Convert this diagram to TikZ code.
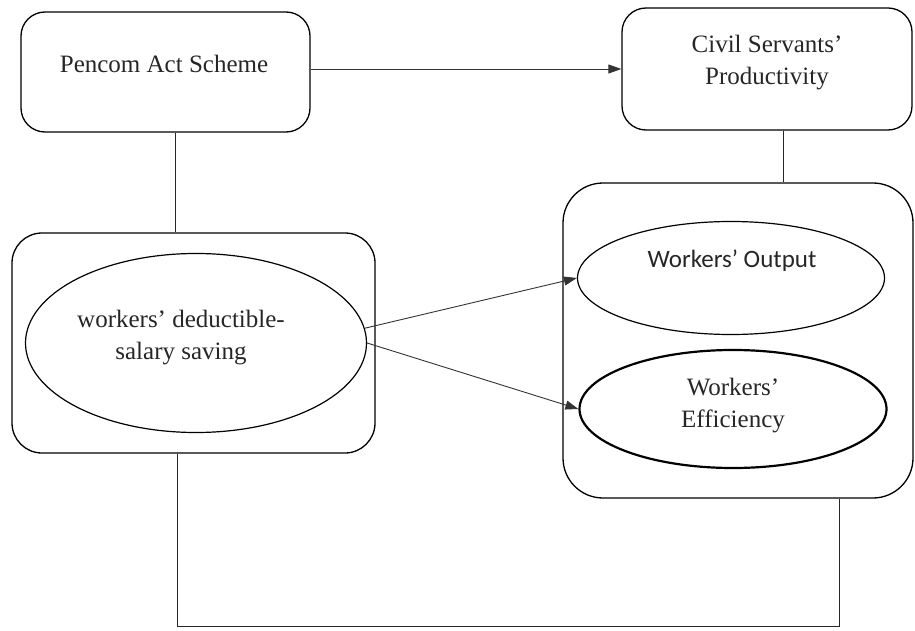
\documentclass[tikz,border=0pt]{standalone}
\usepackage{fontspec}
\setmainfont{Liberation Serif}
\newfontfamily\calib{Carlito}
\usetikzlibrary{shapes.geometric,arrows.meta}
\begin{document}
\begin{tikzpicture}[x=1pt,y=-1pt,
 box/.style={draw, rounded corners=24pt, line width=1.3pt, inner sep=0pt},
 ell/.style={draw, ellipse, line width=1.2pt, inner sep=0pt},
 txt/.style={align=center, font=\fontsize{25}{32}\selectfont, inner sep=0pt, text=black!85},
 link/.style={line width=0.8pt, draw=black!85},
 arr/.style={line width=0.9pt, draw=black!80, -{Triangle[length=13pt,width=9pt]}}]
\useasboundingbox (0,0) rectangle (915,631);
% top boxes
\node[box, minimum width=289pt, minimum height=120pt] (pencom) at (165.5,72) {};
\node[txt, anchor=base] (pencomT) at (164,73) {Pencom Act Scheme};
\node[box, minimum width=290pt, minimum height=122pt] (civil) at (767,69) {};
\node[txt] (civilT) at (767,63) {Civil Servants’\\Productivity};
% left group
\node[box, rounded corners=30pt, minimum width=363pt, minimum height=220pt] (leftbox) at (193.5,343) {};
\node[ell, minimum width=341pt, minimum height=179pt] (leftell) at (196,343) {};
\node[txt] (leftT) at (181,338) {workers’ deductible-\\salary saving};
% right group
\node[box, rounded corners=40pt, minimum width=350pt, minimum height=315pt] (rightbox) at (738,340.5) {};
\node[ell, minimum width=307pt, minimum height=113pt] (outell) at (731,278) {};
\node[txt, anchor=base, font=\calib\fontsize{25}{32}\selectfont] (outT) at (732,267) {Workers’ Output};
\node[ell, line width=2.2pt, minimum width=307pt, minimum height=118pt] (effell) at (733,409) {};
\node[txt] (effT) at (733,406) {Workers’\\Efficiency};
% connectors
\draw[arr] (pencom.east |- civil.west) -- (civil.west);
\draw[link] (175,0 |- pencom.south) -- (175,0 |- leftbox.north);
\draw[link] (783,0 |- civil.south) -- (783,0 |- rightbox.north);
\draw[arr] (leftell.5) -- (outell.west);
\draw[arr] (leftell.east) -- (effell.west);
\coordinate (b1) at (177,626);
\coordinate (b2) at (839,626);
\draw[link] (177,0 |- leftbox.south) -- (b1) -- (b2) -- (839,0 |- rightbox.south);
\end{tikzpicture}
\end{document}
